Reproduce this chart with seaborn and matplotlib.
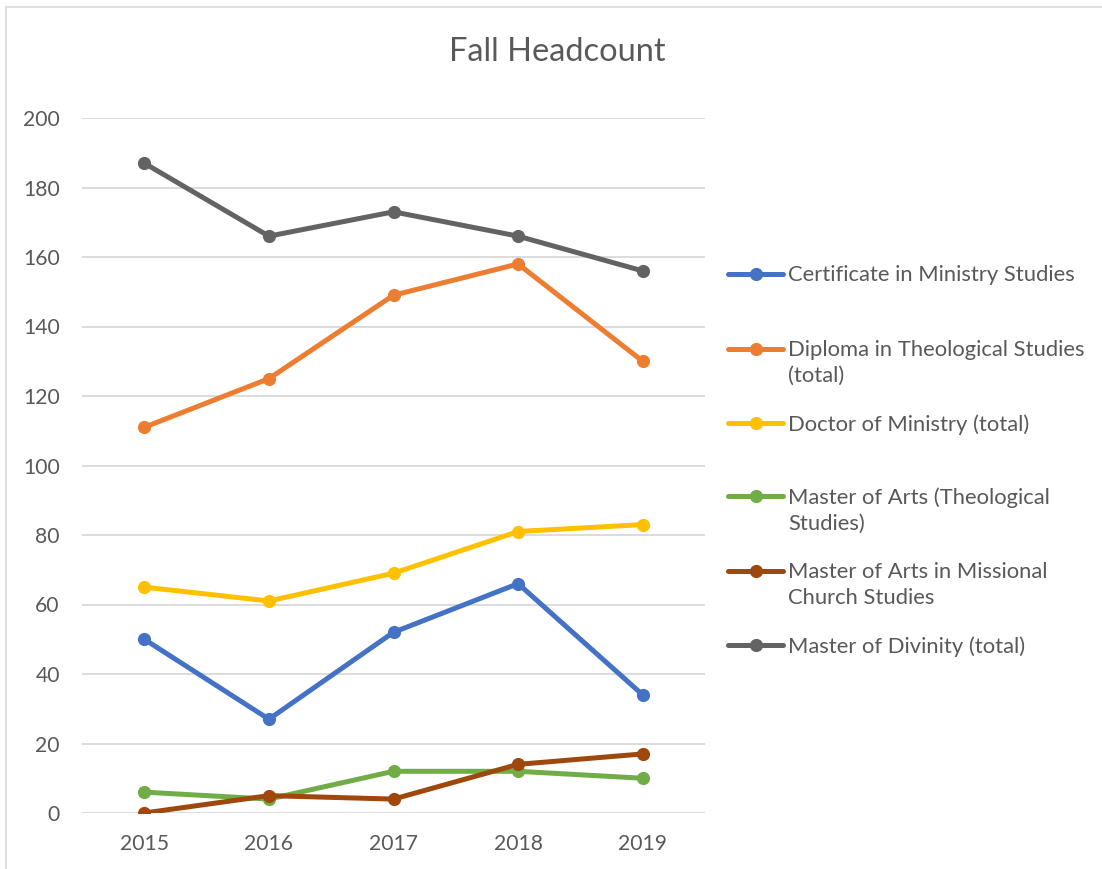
import numpy as np
import pandas as pd
import seaborn as sns
import matplotlib
matplotlib.use("Agg")
import matplotlib.pyplot as plt
from matplotlib.lines import Line2D

years = ["2015", "2016", "2017", "2018", "2019"]

certificate = [50, 27, 52, 66, 34]
diploma = [111, 125, 149, 158, 130]
doctor = [65, 61, 69, 81, 83]
ma_theo = [6, 4, 12, 12, 10]
ma_missional = [0, 5, 4, 14, 17]
mdiv = [187, 166, 173, 166, 156]

series_names = [
    "Certificate in Ministry Studies",
    "Diploma in Theological Studies\n(total)",
    "Doctor of Ministry (total)",
    "Master of Arts (Theological\nStudies)",
    "Master of Arts in Missional\nChurch Studies",
    "Master of Divinity (total)",
]
colors = ["#4472C4", "#ED7D31", "#FFC000", "#70AD47", "#9E480E", "#636363"]

rows = []
for name, vals in zip(series_names, [certificate, diploma, doctor, ma_theo, ma_missional, mdiv]):
    for yr, v in zip(years, vals):
        rows.append({"Year": yr, "Program": name, "Headcount": v})
df = pd.DataFrame(rows)

sns.set_theme(style="white")
plt.rcParams['font.family'] = ['Lato', 'DejaVu Sans']
TEXT = "#595959"
W, H = 1102, 869

fig = plt.figure(figsize=(W / 100, H / 100), dpi=100)
ax = fig.add_axes([82 / W, 1 - 813 / H, (705 - 82) / W, (813 - 118) / H])

sns.lineplot(data=df, x="Year", y="Headcount", hue="Program", palette=colors,
             hue_order=series_names, marker="o", markersize=9.5, markeredgewidth=0,
             linewidth=3.6, sort=False, legend=False, ax=ax)

ax.set_ylim(0, 200)
ax.set_yticks(np.arange(0, 201, 20))
ax.set_xlim(-0.5, 4.5)
ax.yaxis.grid(True, color="#D9D9D9", linewidth=1.3)
ax.set_axisbelow(True)
for s in ax.spines.values():
    s.set_visible(False)
ax.tick_params(axis="both", length=0, labelsize=15.2, labelcolor=TEXT)
ax.tick_params(axis="y", pad=16)
ax.tick_params(axis="x", pad=15)
ax.set_xlabel("")
ax.set_ylabel("")

fig.text(557 / W, 1 - 52 / H, "Fall Headcount", ha="center", va="center",
         fontsize=23.5, color=TEXT)

# legend laid out like the Excel one: handle level with the first text line
legend_rows = [274, 349, 423, 496, 571, 645]
for name, col, yc in zip(series_names, colors, legend_rows):
    yf = 1 - yc / H
    fig.add_artist(Line2D([728 / W, 783 / W], [yf, yf], color=col, lw=3.6,
                          solid_capstyle="round"))
    fig.add_artist(Line2D([755.5 / W], [yf], color=col, marker="o",
                          markersize=9.5, markeredgewidth=0))
    fig.text(788 / W, 1 - (yc - 9) / H, name, ha="left", va="top",
             fontsize=15.8, color=TEXT, linespacing=1.38)

# chart border (left and top edges visible in the reference)
fig.add_artist(Line2D([6 / W, 6 / W], [0, 1 - 7 / H], color="#D9D9D9", lw=1.2))
fig.add_artist(Line2D([6 / W, 1], [1 - 7 / H, 1 - 7 / H], color="#D9D9D9", lw=1.2))

fig.savefig("out.png", dpi=100, facecolor="white")
